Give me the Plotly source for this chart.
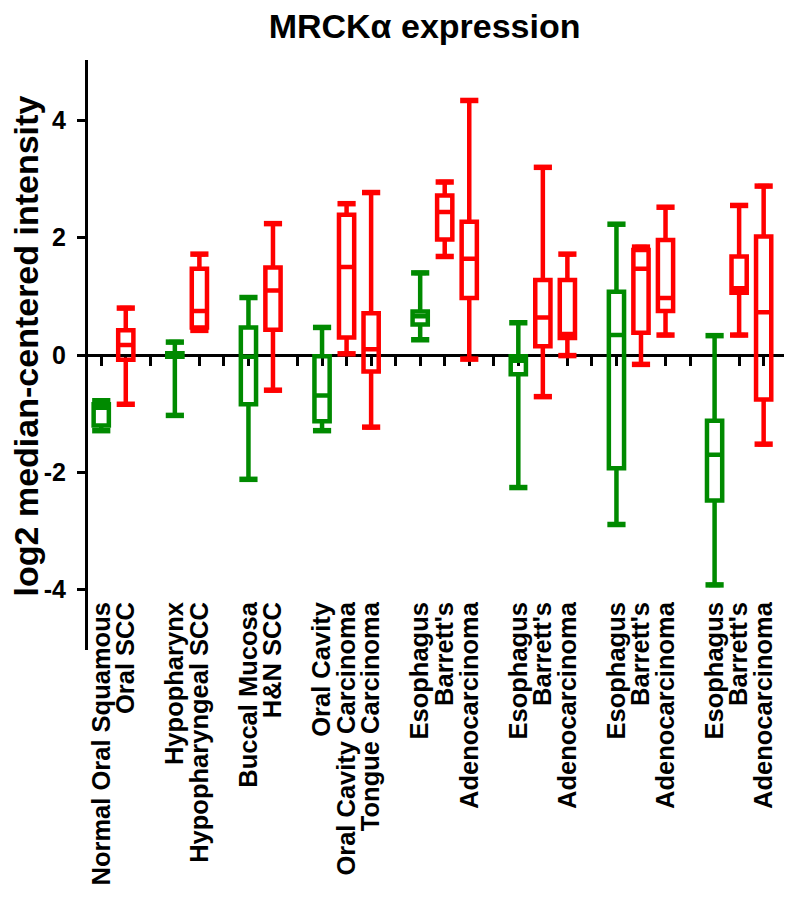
import plotly.graph_objects as go

# ---- data ----
groups = [
    ["Normal Oral Squamous", "Oral SCC"],
    ["Hypopharynx", "Hypopharyngeal SCC"],
    ["Buccal Mucosa", "H&N SCC"],
    ["Oral Cavity", "Oral Cavity Carcinoma", "Tongue Carcinoma"],
    ["Esophagus", "Barrett's", "Adenocarcinoma"],
    ["Esophagus", "Barrett's", "Adenocarcinoma"],
    ["Esophagus", "Barrett's", "Adenocarcinoma"],
    ["Esophagus", "Barrett's", "Adenocarcinoma"],
]
tissue = ["normal", "cancer",
          "normal", "cancer",
          "normal", "cancer",
          "normal", "cancer", "cancer",
          "normal", "cancer", "cancer",
          "normal", "cancer", "cancer",
          "normal", "cancer", "cancer",
          "normal", "cancer", "cancer"]
upper = [-0.78, 0.80, 0.22, 1.72, 0.98, 2.24, 0.47, 2.58, 2.77,
         1.40, 2.95, 4.34, 0.55, 3.20, 1.72, 2.23, 1.84, 2.52, 0.33, 2.55, 2.88]
q3 = [-0.84, 0.42, 0.03, 1.47, 0.47, 1.49, -0.02, 2.39, 0.71,
      0.74, 2.72, 2.27, -0.02, 1.28, 1.28, 1.08, 1.79, 1.96, -1.12, 1.68, 2.02]
median = [-0.90, 0.17, 0.00, 0.75, -0.03, 1.10, -0.69, 1.50, 0.10,
          0.66, 2.44, 1.64, -0.10, 0.64, 0.36, 0.34, 1.47, 0.97, -1.70, 1.14, 0.73]
q1 = [-1.20, -0.08, -0.03, 0.47, -0.84, 0.43, -1.13, 0.30, -0.28,
      0.52, 1.97, 0.97, -0.33, 0.15, 0.29, -1.93, 0.38, 0.75, -2.48, 1.06, -0.76]
lower = [-1.29, -0.84, -1.03, 0.42, -2.12, -0.60, -1.29, 0.02, -1.23,
         0.26, 1.68, -0.07, -2.26, -0.71, -0.01, -2.89, -0.16, 0.34, -3.92, 0.34, -1.52]
ytick_vals = [-4, -2, 0, 2, 4]
ytick_text = ["-4", "-2", "0", "2", "4"]

# ---- layout of categories: one empty slot between groups ----
labels, positions = [], []
slot = 0
for g in groups:
    for name in g:
        labels.append(name)
        positions.append(slot)
        slot += 1
    slot += 1
n_slots = slot  # includes trailing empty slot

colors = {"normal": "#008a00", "cancer": "#ff0000"}
FONT = "Liberation Sans, Arial, Helvetica, sans-serif"

fig = go.Figure()
for i in range(len(labels)):
    c = colors[tissue[i]]
    fig.add_trace(go.Box(
        x=[positions[i]], q1=[q1[i]], median=[median[i]], q3=[q3[i]],
        lowerfence=[lower[i]], upperfence=[upper[i]],
        width=0.62, whiskerwidth=0.75, boxpoints=False,
        line=dict(color=c, width=4.5), fillcolor="rgba(0,0,0,0)",
        name=labels[i], showlegend=False, hoverinfo="skip",
    ))
    # thicker whisker caps
    fig.add_trace(go.Scatter(
        x=[positions[i], positions[i]], y=[lower[i], upper[i]], mode="markers",
        marker=dict(symbol="line-ew", size=13, color=c, line=dict(color=c, width=5.5)),
        showlegend=False, hoverinfo="skip",
    ))

xr = [-0.54, n_slots - 0.6]
fig.update_layout(
    width=792, height=899,
    margin=dict(l=80, r=2, t=52, b=257),
    paper_bgcolor="white", plot_bgcolor="white",
    boxmode="overlay",
    title=dict(text="MRCKα expression", x=0.526, xanchor="center", xref="container",
               y=0.980, yanchor="middle",
               font=dict(family=FONT, size=34, color="black", weight="bold")),
    xaxis=dict(range=xr, showline=False, showgrid=False, zeroline=False,
               tickmode="array", tickvals=positions, ticktext=labels,
               tickangle=-90, ticks="", ticklabelstandoff=-54,
               tickfont=dict(family=FONT, size=25.5, color="black", weight="bold")),
    xaxis2=dict(range=xr, overlaying="x", anchor="free", position=0.5, side="bottom",
                showline=True, linecolor="black", linewidth=3, layer="below traces",
                showgrid=False, zeroline=False, showticklabels=False,
                tickmode="array", tickvals=list(range(n_slots)),
                ticks="outside", ticklen=9, tickwidth=3, tickcolor="black"),
    yaxis=dict(range=[-5.03, 5.03], showline=True, linecolor="black", linewidth=3,
               showgrid=False, zeroline=False,
               tickmode="array", tickvals=ytick_vals, ticktext=ytick_text,
               ticks="outside", ticklen=8, tickwidth=3, tickcolor="black",
               ticklabelstandoff=6,
               tickfont=dict(family=FONT, size=25, color="black", weight="bold")),
    annotations=[dict(text="log2 median-centered intensity", textangle=-90,
                      xref="paper", yref="paper", x=-0.087, y=0.515,
                      xanchor="center", yanchor="middle", showarrow=False,
                      font=dict(family=FONT, size=34, color="black", weight="bold"))],
)
# dummy invisible trace so xaxis2 is drawn
fig.add_trace(go.Scatter(x=[positions[0]], y=[median[0]], xaxis="x2", mode="markers",
                         marker=dict(opacity=0), showlegend=False, hoverinfo="skip"))

fig.write_html("out.html")
